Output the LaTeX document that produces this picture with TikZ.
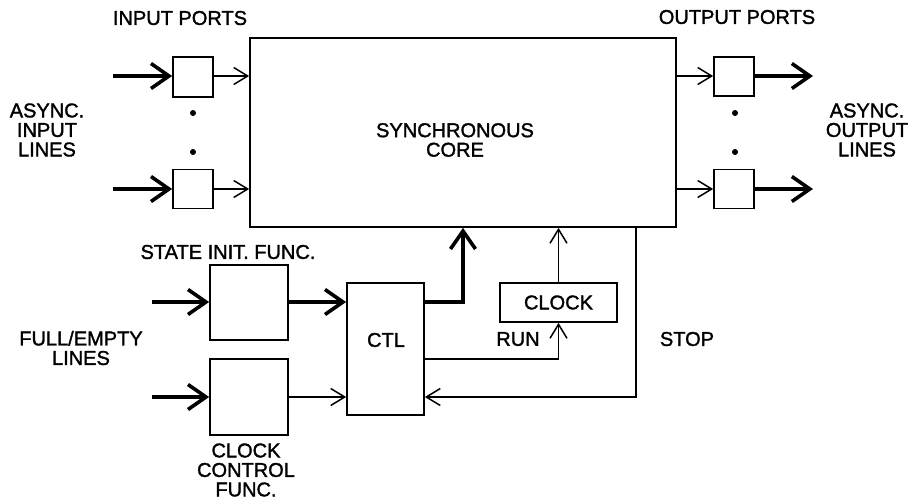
\documentclass[tikz,border=0pt]{standalone}
\usepackage{fontspec}
\setmainfont{Liberation Sans}[FakeBold=1.5]
\usetikzlibrary{arrows.meta, positioning}
\usetikzlibrary{calc}

\begin{document}
\begin{tikzpicture}[x=1pt, y=-1pt,
        every node/.style={font=\fontsize{20}{19.5}\selectfont, align=center},
        blk/.style={draw, line width=1.7pt, inner sep=0pt},
        thinarr/.style={line width=1.5pt, -{Straight Barb[length=14pt, width=17pt, line width=1.5pt]}},
        thickarr/.style={line width=3.6pt, -{Straight Barb[length=18pt, width=25pt, line width=3.6pt]}}]
        \useasboundingbox (0,0) rectangle (908,501);

        % core and port boxes
        \node[blk, minimum width=426pt, minimum height=189pt] (core) at (463,132.5) {};
        \node at (455,140) {SYNCHRONOUS\\CORE};
        \node[blk, minimum width=40pt, minimum height=40pt] (inA) at (193,77) {};
        \node[blk, minimum width=40pt, minimum height=39pt] (inB) at (193,189) {};
        \node[blk, minimum width=40pt, minimum height=39pt] (outA) at (734,76.5) {};
        \node[blk, minimum width=40pt, minimum height=39pt] (outB) at (734,189) {};

        % control boxes
        \node[blk, minimum width=78pt, minimum height=75pt] (init) at (249,302.5) {};
        \node[blk, minimum width=78pt, minimum height=76pt] (cc) at (249,397) {};
        \node[blk, minimum width=77pt, minimum height=132pt] (ctl) at (385.5,349) {};
        \node at (386,340) {CTL};
        \node[blk, minimum width=117pt, minimum height=39pt] (clock) at (558.5,302.5) {CLOCK};

        % labels
        \node (inlbl) at (180,18) {INPUT PORTS};
        \node (outlbl) at (737,17) {OUTPUT PORTS};
        \node (asyncin) at (47,130) {ASYNC.\\INPUT\\LINES};
        \node (asyncout) at (867,130) {ASYNC.\\OUTPUT\\LINES};
        \node (initlbl) at (228,252) {STATE INIT. FUNC.};
        \node (fe) at (81,348) {FULL/EMPTY\\LINES};
        \node (cclbl) at (246,470) {CLOCK\\CONTROL\\FUNC.};
        \node (run) at (518,339) {RUN};
        \node (stop) at (687,339) {STOP};

        % free ends
        \coordinate (a1) at (113,76);
        \coordinate (a2) at (113,189);
        \coordinate (b1) at (813,76);
        \coordinate (b2) at (813,189);
        \coordinate (f1) at (152,302);
        \coordinate (f2) at (152,397);
        \coordinate (runout) at (424,359);
        \coordinate (stopin) at (636,227);

        % dots
        \fill (193,113) circle (3pt) (193,152) circle (3pt);
        \fill (735,113) circle (3pt) (735,152) circle (3pt);

        % port arrows
        \draw[thickarr] (a1) -- (inA.west |- a1);
        \draw[thickarr] (a2) -- (inB.west |- a2);
        \draw[thinarr] (inA.east |- a1) -- (core.west |- a1);
        \draw[thinarr] (inB.east |- a2) -- (core.west |- a2);
        \draw[thinarr] (core.east |- b1) -- (outA.west |- b1);
        \draw[thinarr] (core.east |- b2) -- (outB.west |- b2);
        \draw[thickarr] (outA.east |- b1) -- (b1);
        \draw[thickarr] (outB.east |- b2) -- (b2);

        % control arrows
        \draw[thickarr] (f1) -- (init.west |- f1);
        \draw[thickarr] (f2) -- (cc.west |- f2);
        \draw[thickarr] (init.east |- f1) -- (ctl.west |- f1);
        \draw[thinarr] (cc.east |- f2) -- (ctl.west |- f2);
        \draw[thickarr] (ctl.east |- f1) -| (core.south);
        \draw[thinarr] (clock.north) -- (clock.north |- core.south);
        \draw[thinarr] (runout) -| (clock.south);
        \draw[thinarr] (stopin) |- (ctl.east |- f2);
\end{tikzpicture}
\end{document}
